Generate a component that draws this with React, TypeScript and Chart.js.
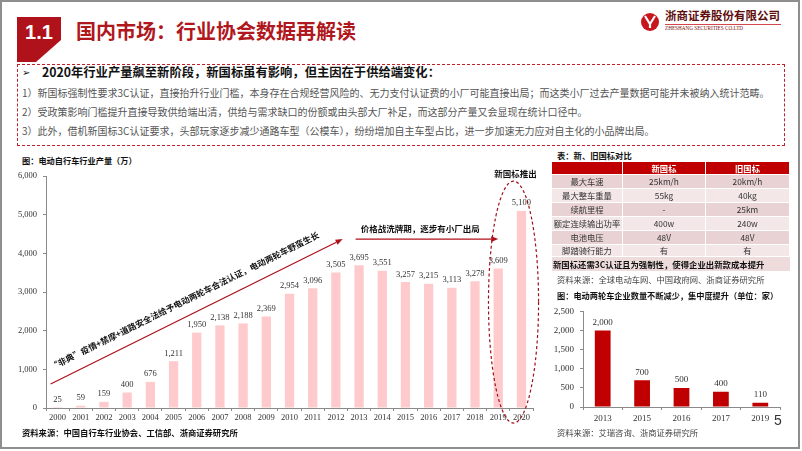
import React, { useEffect, useRef } from "react";
import { Chart, registerables } from "chart.js";

Chart.register(...registerables);

// ---------------- data ----------------
const years = ["2000","2001","2002","2003","2004","2005","2006","2007","2008","2009","2010","2011","2012","2013","2014","2015","2016","2017","2018","2019","2020"];
const production = [25, 59, 159, 400, 676, 1211, 1950, 2138, 2188, 2369, 2954, 3096, 3505, 3695, 3551, 3257, 3215, 3113, 3278, 3609, 5100];
const firmYears = ["2013", "2015", "2016", "2017", "2019"];
const firmCounts = [2000, 700, 500, 400, 110];
const tableHeader = ["", "新国标", "旧国标"];
const tableRowLabels = ["最大车速", "最大整车重量", "续航里程", "额定连续输出功率", "电池电压", "脚踏骑行能力"];
const tableNew = ["25km/h", "55kg", "-", "400w", "48V", "有"];
const tableOld = ["20km/h", "40kg", "25km", "240w", "48V", "有"];
const bodyLines = [
  "1）新国标强制性要求3C认证，直接抬升行业门槛，本身存在合规经营风险的、无力支付认证费的小厂可能直接出局；而这类小厂过去产量数据可能并未被纳入统计范畴。",
  "2）受政策影响门槛提升直接导致供给端出清，供给与需求缺口的份额或由头部大厂补足，而这部分产量又会显现在统计口径中。",
  "3）此外，借机新国标3C认证要求，头部玩家逐步减少通路车型（公模车），纷纷增加自主车型占比，进一步加速无力应对自主化的小品牌出局。",
];

const CJK = '"Noto Sans CJK SC", "Noto Sans", sans-serif';
const SERIF = '"Liberation Serif", "DejaVu Serif", serif';
const fmt = (v: number) => Number(v).toLocaleString("en-US");

function valueLabels(font: string, color: string, gap: number) {
  return {
    id: "valueLabels",
    afterDatasetsDraw(chart: any) {
      const ctx = chart.ctx;
      ctx.save();
      ctx.font = font;
      ctx.fillStyle = color;
      ctx.textAlign = "center";
      ctx.textBaseline = "bottom";
      const ds = chart.data.datasets[0].data;
      chart.getDatasetMeta(0).data.forEach((el: any, i: number) => {
        ctx.fillText(fmt(ds[i]), el.x, el.y - gap);
      });
      ctx.restore();
    },
  };
}

function drawArrow(ctx: CanvasRenderingContext2D, x1: number, y1: number, x2: number, y2: number, color: string, w: number, head: number) {
  const a = Math.atan2(y2 - y1, x2 - x1);
  const bx = x2 - head * Math.cos(a);
  const by = y2 - head * Math.sin(a);
  ctx.strokeStyle = color;
  ctx.lineWidth = w;
  ctx.beginPath();
  ctx.moveTo(x1, y1);
  ctx.lineTo(bx, by);
  ctx.stroke();
  ctx.fillStyle = color;
  ctx.beginPath();
  ctx.moveTo(x2, y2);
  ctx.lineTo(bx + head * 0.4 * Math.sin(a), by - head * 0.4 * Math.cos(a));
  ctx.lineTo(bx - head * 0.4 * Math.sin(a), by + head * 0.4 * Math.cos(a));
  ctx.closePath();
  ctx.fill();
}

const leftAnnotations = {
  id: "leftAnnotations",
  afterDraw(chart: any) {
    const { ctx } = chart;
    const x = chart.scales.x;
    const y = chart.scales.y;
    ctx.save();
    // diagonal growth arrow
    const x1 = x.getPixelForValue(-0.3), y1 = y.getPixelForValue(620);
    const x2 = x.getPixelForValue(12.29), y2 = y.getPixelForValue(4370);
    drawArrow(ctx, x1, y1, x2, y2, "#B0101A", 1.3, 7);
    const ang = Math.atan2(y2 - y1, x2 - x1);
    const mx = (x1 + x2) / 2, my = (y1 + y2) / 2;
    const nx = Math.sin(ang), ny = -Math.cos(ang);
    ctx.save();
    ctx.translate(mx - 6 * Math.cos(ang) + nx * 15, my - 6 * Math.sin(ang) + ny * 15);
    ctx.rotate(ang);
    ctx.font = `bold 8.5px ${CJK}`;
    ctx.fillStyle = "#111";
    ctx.textAlign = "center";
    ctx.textBaseline = "middle";
    ctx.fillText("“非典”疫情+禁摩+道路安全法给予电动两轮车合法认证，电动两轮车野蛮生长", 0, 0);
    ctx.restore();
    // horizontal arrow
    const hy = y.getPixelForValue(4370);
    drawArrow(ctx, x.getPixelForValue(12.85), hy, x.getPixelForValue(19.0), hy, "#B0101A", 1.3, 7);
    ctx.font = `bold 8.5px ${CJK}`;
    ctx.fillStyle = "#111";
    ctx.textAlign = "left";
    ctx.textBaseline = "middle";
    ctx.fillText("价格战洗牌期，逐步有小厂出局", x.getPixelForValue(13.07), y.getPixelForValue(4630));
    // dashed ellipse
    const cx = x.getPixelForValue(19.66);
    const rx = x.getPixelForValue(1.08) - x.getPixelForValue(0);
    const top = y.getPixelForValue(5870), bot = y.getPixelForValue(-390);
    ctx.strokeStyle = "#A0101A";
    ctx.lineWidth = 1.2;
    ctx.setLineDash([3, 2.5]);
    ctx.beginPath();
    ctx.ellipse(cx, (top + bot) / 2, rx, (bot - top) / 2, 0, 0, Math.PI * 2);
    ctx.stroke();
    ctx.setLineDash([]);
    ctx.textAlign = "center";
    ctx.fillText("新国标推出", x.getPixelForValue(19.75), y.getPixelForValue(6060));
    ctx.restore();
  },
};

function LeftChart() {
  const ref = useRef<HTMLCanvasElement>(null);
  useEffect(() => {
    const chart = new Chart(ref.current!, {
      type: "bar",
      data: {
        labels: years,
        datasets: [{ data: production, backgroundColor: "#FFCACB", barPercentage: 0.4, categoryPercentage: 1 }],
      },
      options: {
        animation: false,
        responsive: false,
        layout: { padding: { top: 11, right: 12, left: 0, bottom: 0 } },
        plugins: { legend: { display: false }, tooltip: { enabled: false } },
        scales: {
          x: {
            grid: { display: true, drawOnChartArea: false, tickLength: 3, color: "#8a8a8a" },
            border: { color: "#8a8a8a" },
            ticks: { font: { family: SERIF, size: 8.5 }, color: "#333", padding: 2, maxRotation: 0, autoSkip: false },
            afterFit: (s: any) => { s.height = 22; },
          },
          y: {
            min: 0,
            max: 6000,
            ticks: { stepSize: 1000, font: { family: SERIF, size: 8.5 }, color: "#333", padding: 6, callback: (v: any) => fmt(v) },
            grid: { display: true, drawOnChartArea: false, tickLength: 3, color: "#8a8a8a" },
            border: { color: "#8a8a8a" },
            afterFit: (s: any) => { s.width = 46; },
          },
        },
      },
      plugins: [valueLabels(`8.5px ${SERIF}`, "#333", 3.5), leftAnnotations],
    } as any);
    return () => chart.destroy();
  }, []);
  return <canvas ref={ref} width={545} height={265} style={{ position: "absolute", left: 0, top: 165, display: "block" }} />;
}

function RightChart() {
  const ref = useRef<HTMLCanvasElement>(null);
  useEffect(() => {
    const chart = new Chart(ref.current!, {
      type: "bar",
      data: {
        labels: firmYears,
        datasets: [{ data: firmCounts, backgroundColor: "#C00000", barPercentage: 0.4, categoryPercentage: 1 }],
      },
      options: {
        animation: false,
        responsive: false,
        layout: { padding: { top: 10, right: 15, left: 0, bottom: 0 } },
        plugins: { legend: { display: false }, tooltip: { enabled: false } },
        scales: {
          x: {
            grid: { display: true, drawOnChartArea: false, tickLength: 3, color: "#8a8a8a" },
            border: { color: "#8a8a8a" },
            ticks: { font: { family: SERIF, size: 9 }, color: "#333", padding: 3, maxRotation: 0 },
            afterFit: (s: any) => { s.height = 23; },
          },
          y: {
            min: 0,
            max: 2500,
            ticks: { stepSize: 500, font: { family: SERIF, size: 9 }, color: "#333", padding: 6, callback: (v: any) => fmt(v) },
            grid: { display: true, drawOnChartArea: false, tickLength: 3, color: "#8a8a8a" },
            border: { color: "#8a8a8a" },
            afterFit: (s: any) => { s.width = 43; },
          },
        },
      },
      plugins: [valueLabels(`9px ${SERIF}`, "#333", 3.5)],
    } as any);
    return () => chart.destroy();
  }, []);
  return <canvas ref={ref} width={255} height={130} style={{ position: "absolute", left: 540, top: 300, display: "block" }} />;
}

function Txt(props: { x: number; y: number; size: number; children: any; bold?: boolean; color?: string; family?: string; align?: "left" | "center"; w?: number }) {
  const { x, y, size, children, bold, color, family, align, w } = props;
  const lh = size * 1.4;
  const style: any = {
    position: "absolute",
    top: y - lh / 2,
    lineHeight: `${lh}px`,
    fontSize: size,
    fontWeight: bold ? 700 : 400,
    color: color || "#333",
    fontFamily: family || CJK,
    whiteSpace: "nowrap",
  };
  if (align === "center") {
    style.left = x - (w || 100) / 2;
    style.width = w || 100;
    style.textAlign = "center";
  } else {
    style.left = x;
  }
  return <div style={style}>{children}</div>;
}

function Table() {
  const cols = [552, 622, 705, 789];
  const rowTops = [174, 188, 202, 216, 230, 244];
  const rowH = [14, 14, 14, 14, 14, 12];
  const cells: any[] = [];
  // header
  for (let c = 0; c < 3; c++) {
    cells.push(
      <div key={`h${c}`} style={{ position: "absolute", left: cols[c] + (c ? 1 : 0), top: 162, width: cols[c + 1] - cols[c] - (c ? 1 : 0), height: 12, background: "#C00000", color: "#fff", fontWeight: 700, fontSize: 8.3, lineHeight: "12px", textAlign: "center", fontFamily: CJK }}>
        {tableHeader[c]}
      </div>
    );
  }
  tableRowLabels.forEach((lab, r) => {
    const vals = [lab, tableNew[r], tableOld[r]];
    const bg = r % 2 === 0 ? "#E8D2D3" : "#F3E7E7";
    for (let c = 0; c < 3; c++) {
      cells.push(
        <div key={`r${r}c${c}`} style={{ position: "absolute", left: cols[c] + (c ? 1 : 0), top: rowTops[r] + 1, width: cols[c + 1] - cols[c] - (c ? 1 : 0), height: rowH[r] - 1, background: bg, color: "#333", fontSize: 8.3, lineHeight: `${rowH[r] - 1}px`, textAlign: "center", fontFamily: CJK }}>
          {vals[c]}
        </div>
      );
    }
  });
  cells.push(
    <div key="note" style={{ position: "absolute", left: 552, top: 257, width: 237, height: 14, background: "#EEDCDC", color: "#111", fontWeight: 700, fontSize: 8.4, lineHeight: "14px", fontFamily: CJK, paddingLeft: 1, whiteSpace: "nowrap" }}>
      新国标还需3C认证且为强制性，使得企业出新款成本提升
    </div>
  );
  return <>{cells}</>;
}

export default function App() {
  return (
    <div style={{ position: "fixed", left: 0, top: 0, width: 802, height: 451, background: "#fff", overflow: "hidden", fontFamily: CJK }}>
      {/* slide frame */}
      <div style={{ position: "absolute", left: 0, top: 0, width: 800, height: 449, border: "2px solid #8e8e8e", boxSizing: "border-box" }} />
      {/* header badge */}
      <svg style={{ position: "absolute", left: 0, top: 0 }} width={802} height={70}>
        <polygon points="17,17 61,17 61,40 36,62 17,62" fill="#B0121B" />
        <circle cx={650} cy={22} r={9} fill="#C8161D" />
        <path d="M645 16 L650 24 L655 16 M650 24 L650 28" stroke="#fff" strokeWidth={2.2} fill="none" />
        <line x1={665} y1={24.5} x2={781} y2={24.5} stroke="#C8161D" strokeWidth={0.8} />
      </svg>
      <Txt x={39} y={32} size={20} bold color="#fff" family='"Liberation Sans", Arial, sans-serif' align="center" w={44}>1.1</Txt>
      <Txt x={76} y={31} size={20} bold color="#B01820">国内市场：行业协会数据再解读</Txt>
      <Txt x={665} y={15.5} size={11.5} bold color="#5e0d0d">浙商证券股份有限公司</Txt>
      <Txt x={665} y={29} size={5.2} color="#7a1010" family={SERIF}>ZHESHANG SECURITIES CO.LTD</Txt>

      {/* dashed text box */}
      <div style={{ position: "absolute", left: 17, top: 64, width: 768, height: 82, border: "1.5px dashed #C0202A", boxSizing: "border-box" }} />
      <Txt x={22} y={73} size={10} color="#111" family='"DejaVu Sans", sans-serif'>➢</Txt>
      <Txt x={42} y={73} size={12.3} bold color="#111">2020年行业产量飙至新阶段，新国标虽有影响，但主因在于供给端变化：</Txt>
      {bodyLines.map((l, i) => (
        <Txt key={i} x={22} y={93 + i * 19} size={10} color="#555">{l}</Txt>
      ))}

      {/* left chart */}
      <Txt x={22} y={161} size={8.2} bold color="#111">图：电动自行车行业产量（万）</Txt>
      <LeftChart />
      <Txt x={22} y={433} size={8.3} bold color="#111">资料来源：中国自行车行业协会、工信部、浙商证券研究所</Txt>

      {/* table */}
      <Txt x={557} y={156} size={8.3} bold color="#111">表：新、旧国标对比</Txt>
      <Table />
      <Txt x={557} y={280} size={8.3} color="#444">资料来源：全球电动车网、中国政府网、浙商证券研究所</Txt>
      <Txt x={557} y={296} size={8.2} bold color="#111">图：电动两轮车企业数量不断减少，集中度提升（单位：家）</Txt>

      {/* right chart */}
      <RightChart />
      <Txt x={557} y={433} size={8.3} color="#444">资料来源：艾瑞咨询、浙商证券研究所</Txt>
      <Txt x={774} y={421} size={14} color="#333" family='"Liberation Sans", Arial, sans-serif'>5</Txt>
    </div>
  );
}
